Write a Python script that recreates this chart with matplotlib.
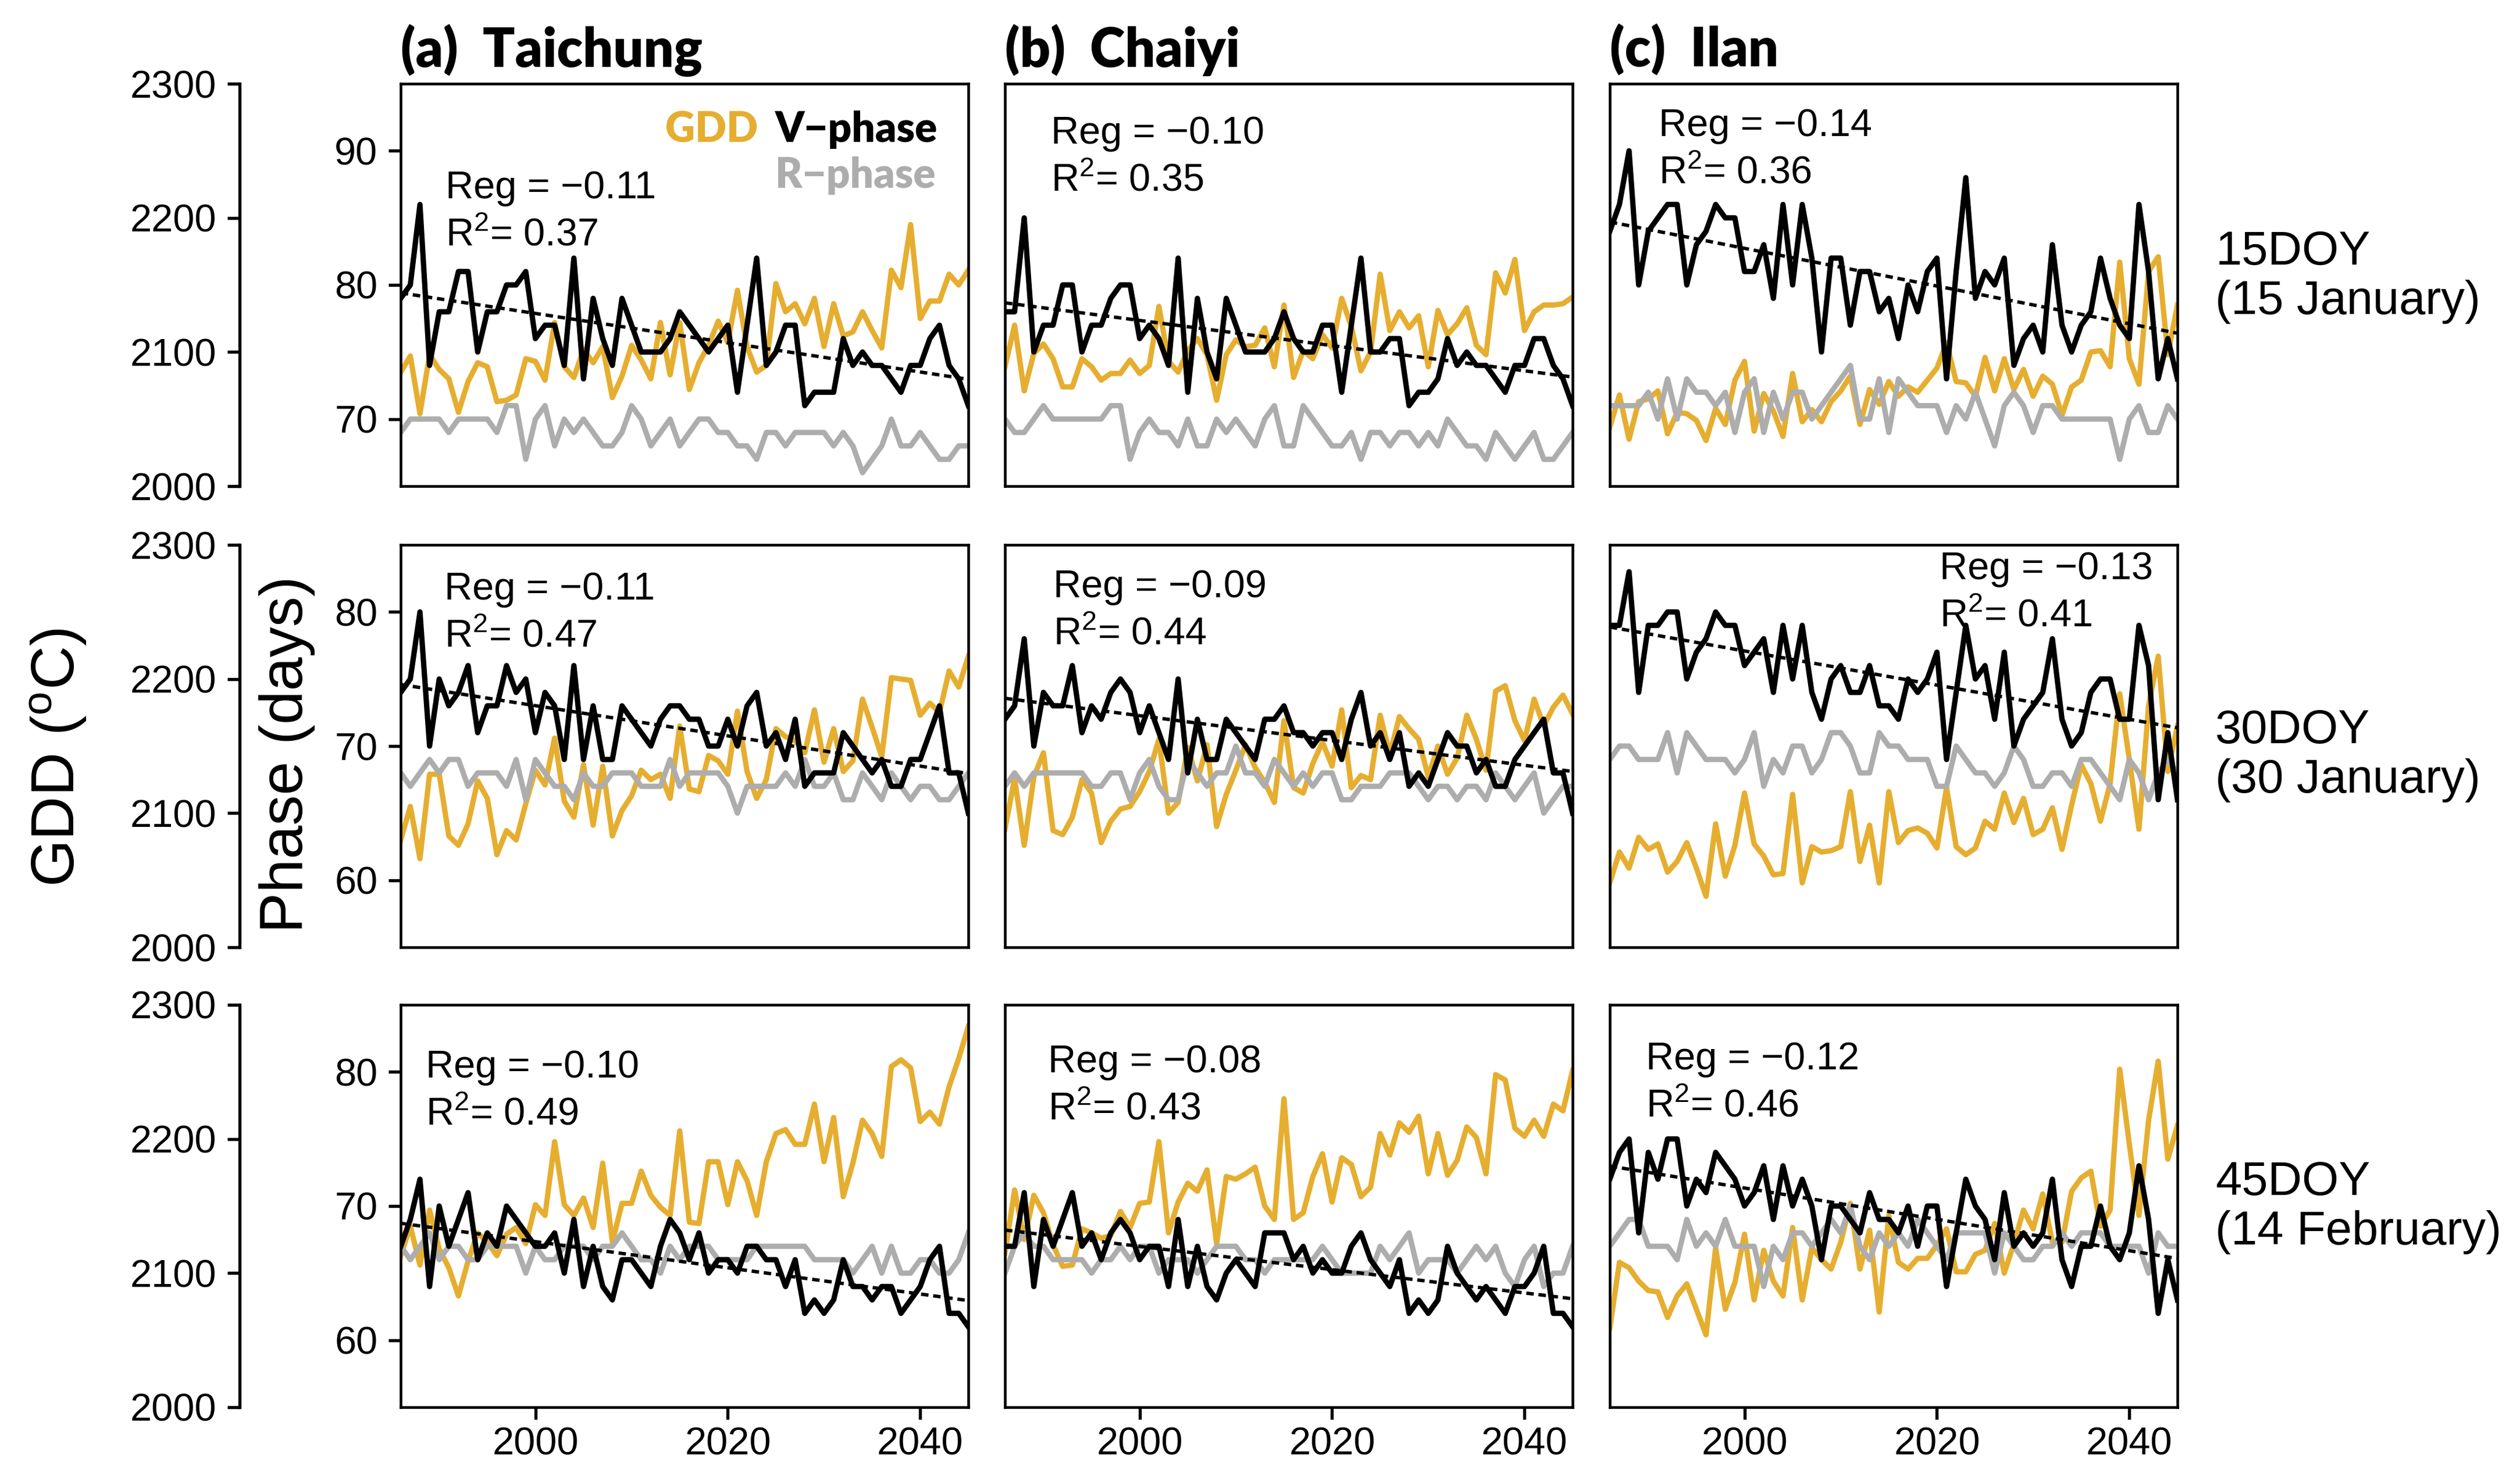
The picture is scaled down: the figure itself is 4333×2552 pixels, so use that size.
#!/usr/bin/env python3
import numpy as np
import matplotlib
matplotlib.use('Agg')
import matplotlib.pyplot as plt

plt.rcParams['font.family'] = ['Liberation Sans', 'DejaVu Sans']
plt.rcParams['mathtext.fontset'] = 'custom'
plt.rcParams['mathtext.rm'] = 'Liberation Sans'
plt.rcParams['mathtext.it'] = 'Liberation Sans:italic'

BOLD = ['Lato', 'DejaVu Sans']

YEARS = list(range(1986, 2046))
STATIONS = ['(a)  Taichung', '(b)  Chaiyi', '(c)  Ilan']
DATES = ['15DOY\n(15 January)', '30DOY\n(30 January)', '45DOY\n(14 February)']

# ---- 15 DOY -------------------------------------------------------------
GDD_TC_15 = [2085, 2097, 2054, 2098, 2087, 2080, 2055, 2078, 2092, 2089, 2063, 2064, 2068, 2095, 2093,
             2079, 2122, 2089, 2081, 2102, 2092, 2104, 2066, 2082, 2105, 2094, 2080, 2122, 2083, 2122,
             2072, 2092, 2105, 2123, 2107, 2146, 2104, 2085, 2090, 2151, 2130, 2136, 2121, 2140, 2104,
             2136, 2112, 2115, 2130, 2116, 2103, 2161, 2148, 2195, 2125, 2138, 2138, 2158, 2150, 2161]
VP_TC_15 = [79, 80, 86, 74, 78, 78, 81, 81, 75, 78, 78, 80, 80, 81, 76, 77, 77, 74, 82, 73,
            79, 76, 74, 79, 77, 75, 75, 75, 76, 78, 77, 76, 75, 76, 77, 72, 77, 82, 74, 75,
            77, 77, 71, 72, 72, 72, 76, 74, 75, 74, 74, 73, 72, 74, 74, 76, 77, 74, 73, 71]
RP_TC_15 = [69, 70, 70, 70, 70, 69, 70, 70, 70, 70, 69, 71, 71, 67, 70, 71, 68, 70, 69, 70,
            69, 68, 68, 69, 71, 70, 68, 69, 70, 68, 69, 70, 70, 69, 69, 68, 68, 67, 69, 69,
            68, 69, 69, 69, 69, 68, 69, 68, 66, 67, 68, 70, 68, 68, 69, 68, 67, 67, 68, 68]

GDD_CY_15 = [2089, 2120, 2071, 2099, 2106, 2095, 2074, 2074, 2095, 2089, 2079, 2084, 2084, 2094, 2084,
             2090, 2134, 2093, 2085, 2101, 2110, 2098, 2064, 2098, 2109, 2104, 2105, 2118, 2089, 2135,
             2081, 2101, 2095, 2113, 2103, 2140, 2119, 2086, 2100, 2158, 2116, 2130, 2118, 2127, 2089,
             2131, 2113, 2121, 2133, 2105, 2098, 2159, 2144, 2169, 2116, 2130, 2135, 2135, 2136, 2141]
VP_CY_15 = [78, 78, 85, 75, 77, 77, 80, 80, 75, 77, 77, 79, 80, 80, 76, 77, 76, 74, 82, 72,
            79, 75, 73, 79, 77, 75, 75, 75, 76, 78, 76, 75, 75, 77, 77, 72, 77, 82, 75, 75,
            76, 76, 71, 72, 72, 73, 76, 74, 75, 74, 74, 73, 72, 74, 74, 76, 76, 74, 73, 71]
RP_CY_15 = [70, 69, 69, 70, 71, 70, 70, 70, 70, 70, 70, 71, 71, 67, 69, 70, 69, 69, 68, 70,
            68, 68, 70, 69, 70, 69, 68, 70, 71, 68, 68, 71, 70, 69, 68, 68, 69, 67, 69, 69,
            68, 69, 69, 68, 69, 68, 70, 69, 68, 68, 67, 69, 68, 67, 68, 69, 67, 67, 68, 69]

GDD_IL_15 = [2044, 2068, 2035, 2063, 2065, 2071, 2039, 2055, 2054, 2049, 2034, 2058, 2046, 2079, 2093,
             2041, 2069, 2056, 2037, 2084, 2048, 2057, 2048, 2063, 2071, 2082, 2046, 2072, 2061, 2078,
             2067, 2074, 2070, 2079, 2088, 2107, 2078, 2077, 2067, 2096, 2071, 2095, 2072, 2087, 2067,
             2082, 2076, 2053, 2074, 2079, 2100, 2101, 2089, 2167, 2095, 2076, 2160, 2171, 2098, 2135]
VP_IL_15 = [84, 86, 90, 80, 84, 85, 86, 86, 80, 83, 84, 86, 85, 85, 81, 81, 83, 79, 86, 80,
            86, 82, 75, 82, 82, 77, 81, 81, 78, 79, 76, 80, 78, 81, 82, 73, 81, 88, 79, 81,
            80, 82, 74, 76, 77, 75, 83, 77, 75, 77, 78, 82, 79, 77, 76, 86, 81, 73, 76, 73]
RP_IL_15 = [71, 71, 71, 71, 72, 70, 73, 70, 73, 72, 72, 71, 72, 69, 72, 73, 69, 72, 70, 72,
            72, 70, 71, 72, 73, 74, 70, 70, 73, 69, 73, 72, 71, 71, 71, 69, 71, 70, 72, 70,
            68, 71, 72, 71, 69, 71, 71, 70, 70, 70, 70, 70, 70, 67, 70, 71, 69, 69, 71, 70]

# ---- 30 DOY -------------------------------------------------------------
GDD_TC_30 = [2080, 2105, 2066, 2129, 2129, 2083, 2076, 2092, 2124, 2111, 2069, 2087, 2080, 2107, 2132,
             2121, 2156, 2109, 2097, 2136, 2091, 2135, 2083, 2102, 2113, 2132, 2125, 2129, 2111, 2165,
             2118, 2116, 2143, 2139, 2129, 2176, 2131, 2111, 2125, 2163, 2157, 2154, 2145, 2177, 2138,
             2163, 2131, 2139, 2185, 2164, 2142, 2201, 2200, 2199, 2173, 2182, 2175, 2206, 2194, 2217]
VP_TC_30 = [74, 75, 80, 70, 75, 73, 74, 76, 71, 73, 73, 76, 74, 75, 71, 74, 73, 69, 76, 69,
            73, 69, 69, 73, 72, 71, 70, 72, 73, 73, 72, 72, 70, 70, 72, 70, 73, 74, 70, 71,
            69, 72, 67, 68, 68, 68, 71, 70, 69, 68, 69, 67, 67, 69, 69, 71, 73, 68, 68, 65]
RP_TC_30 = [68, 67, 68, 69, 68, 69, 69, 67, 68, 68, 68, 67, 69, 66, 69, 68, 67, 67, 66, 68,
            67, 67, 68, 68, 68, 67, 67, 67, 69, 67, 68, 68, 68, 68, 67, 65, 67, 67, 67, 67,
            68, 67, 69, 67, 67, 68, 66, 66, 68, 67, 66, 68, 67, 66, 67, 67, 66, 66, 67, 68]

GDD_CY_30 = [2088, 2126, 2076, 2127, 2145, 2087, 2084, 2097, 2125, 2115, 2078, 2094, 2103, 2105, 2116,
             2131, 2155, 2100, 2108, 2149, 2124, 2151, 2090, 2114, 2132, 2151, 2134, 2123, 2108, 2169,
             2119, 2115, 2137, 2153, 2135, 2177, 2119, 2128, 2125, 2173, 2144, 2172, 2163, 2155, 2127,
             2150, 2129, 2141, 2173, 2155, 2132, 2191, 2195, 2169, 2154, 2185, 2165, 2179, 2188, 2174]
VP_CY_30 = [72, 73, 78, 70, 74, 73, 73, 76, 71, 73, 72, 74, 75, 74, 71, 73, 71, 69, 75, 68,
            72, 69, 69, 72, 71, 70, 69, 72, 72, 73, 71, 71, 70, 71, 71, 69, 72, 74, 70, 71,
            69, 71, 67, 68, 67, 69, 71, 70, 70, 68, 69, 67, 67, 69, 70, 71, 72, 68, 68, 65]
RP_CY_30 = [67, 68, 67, 68, 68, 68, 68, 68, 68, 67, 67, 68, 68, 66, 68, 69, 67, 66, 66, 69,
            68, 67, 68, 68, 70, 68, 68, 67, 69, 68, 67, 68, 67, 68, 68, 66, 66, 67, 67, 67,
            68, 68, 68, 67, 66, 67, 67, 66, 67, 67, 66, 68, 67, 66, 67, 68, 65, 66, 67, 67]

GDD_IL_30 = [2048, 2071, 2059, 2082, 2073, 2077, 2056, 2064, 2078, 2059, 2038, 2092, 2053, 2076, 2115,
             2077, 2068, 2054, 2055, 2114, 2048, 2075, 2071, 2072, 2075, 2116, 2064, 2091, 2048, 2116,
             2078, 2087, 2089, 2085, 2074, 2119, 2075, 2069, 2074, 2094, 2088, 2115, 2093, 2111, 2084,
             2088, 2104, 2073, 2106, 2136, 2122, 2094, 2122, 2189, 2140, 2088, 2180, 2217, 2131, 2165]
VP_IL_30 = [79, 79, 83, 74, 79, 79, 80, 80, 75, 77, 78, 80, 79, 79, 76, 77, 78, 74, 79, 75,
            79, 74, 72, 75, 76, 74, 74, 76, 73, 73, 72, 75, 74, 75, 77, 69, 74, 79, 75, 76,
            72, 77, 70, 72, 73, 74, 78, 72, 70, 71, 74, 75, 75, 72, 72, 79, 76, 66, 71, 66]
RP_IL_30 = [69, 70, 70, 69, 69, 69, 71, 68, 71, 70, 69, 69, 69, 68, 69, 71, 67, 69, 68, 70,
            70, 68, 69, 71, 71, 70, 68, 68, 71, 70, 70, 69, 69, 69, 67, 67, 70, 69, 68, 68,
            67, 68, 70, 69, 67, 67, 68, 68, 67, 69, 69, 68, 67, 66, 69, 68, 66, 68, 69, 68]

# ---- 45 DOY -------------------------------------------------------------
GDD_TC_45 = [2113, 2135, 2106, 2147, 2118, 2104, 2083, 2109, 2130, 2123, 2113, 2129, 2134, 2122, 2151,
             2143, 2198, 2151, 2143, 2156, 2134, 2182, 2123, 2152, 2152, 2176, 2158, 2149, 2143, 2206,
             2138, 2137, 2183, 2183, 2151, 2183, 2169, 2143, 2183, 2204, 2207, 2196, 2196, 2226, 2183,
             2216, 2157, 2182, 2214, 2204, 2187, 2254, 2259, 2253, 2213, 2220, 2211, 2239, 2260, 2284]
VP_TC_45 = [67, 69, 72, 64, 70, 67, 69, 71, 66, 68, 67, 70, 69, 68, 67, 67, 68, 65, 69, 64,
            67, 64, 63, 66, 66, 65, 64, 67, 69, 68, 66, 68, 65, 66, 66, 65, 67, 67, 66, 66,
            64, 66, 62, 63, 62, 63, 66, 64, 64, 63, 64, 64, 62, 63, 64, 66, 67, 62, 62, 61]
RP_TC_45 = [67, 66, 67, 68, 66, 67, 67, 66, 66, 67, 67, 67, 67, 65, 67, 66, 66, 67, 67, 67,
            66, 67, 67, 68, 67, 66, 66, 65, 67, 66, 67, 67, 67, 66, 66, 66, 66, 67, 67, 67,
            67, 67, 67, 66, 66, 66, 66, 65, 66, 67, 65, 67, 65, 65, 66, 66, 65, 65, 66, 68]

GDD_CY_45 = [2115, 2162, 2125, 2158, 2145, 2121, 2105, 2106, 2133, 2130, 2126, 2128, 2146, 2134, 2152,
             2153, 2198, 2130, 2153, 2167, 2161, 2177, 2122, 2172, 2170, 2174, 2179, 2150, 2140, 2230,
             2140, 2145, 2172, 2189, 2153, 2186, 2181, 2157, 2164, 2204, 2188, 2212, 2205, 2217, 2174,
             2204, 2173, 2184, 2209, 2201, 2174, 2248, 2244, 2208, 2202, 2214, 2202, 2226, 2221, 2251]
VP_CY_45 = [67, 67, 71, 64, 69, 67, 69, 71, 67, 68, 66, 68, 69, 68, 66, 67, 67, 64, 69, 64,
            67, 64, 63, 65, 66, 65, 64, 68, 68, 68, 66, 67, 65, 66, 65, 65, 67, 68, 66, 65,
            64, 66, 62, 63, 62, 63, 67, 65, 64, 63, 64, 63, 62, 64, 64, 65, 67, 62, 62, 61]
RP_CY_45 = [65, 67, 68, 67, 67, 66, 66, 66, 66, 65, 66, 66, 67, 66, 67, 67, 65, 66, 66, 66,
            65, 66, 67, 67, 67, 66, 66, 65, 66, 66, 66, 66, 66, 67, 66, 65, 65, 65, 65, 67,
            66, 67, 68, 65, 66, 66, 66, 65, 66, 67, 66, 67, 65, 64, 66, 67, 64, 65, 65, 67]

GDD_IL_45 = [2059, 2108, 2104, 2094, 2087, 2086, 2067, 2083, 2092, 2073, 2054, 2119, 2073, 2093, 2129,
             2080, 2117, 2094, 2083, 2134, 2080, 2119, 2110, 2103, 2123, 2152, 2103, 2132, 2071, 2143,
             2108, 2103, 2111, 2111, 2121, 2133, 2101, 2101, 2114, 2117, 2137, 2100, 2122, 2147, 2133,
             2159, 2123, 2123, 2161, 2171, 2176, 2135, 2147, 2252, 2196, 2143, 2214, 2258, 2185, 2210]
VP_IL_45 = [72, 74, 75, 68, 74, 72, 75, 75, 70, 72, 71, 74, 73, 72, 70, 71, 73, 69, 73, 70,
            72, 70, 66, 70, 70, 69, 68, 71, 69, 69, 68, 70, 67, 70, 70, 64, 68, 72, 70, 69,
            66, 71, 67, 68, 67, 68, 72, 66, 64, 67, 67, 70, 67, 66, 68, 73, 69, 62, 66, 63]
RP_IL_45 = [67, 68, 69, 69, 67, 67, 67, 66, 69, 67, 68, 67, 69, 67, 67, 67, 64, 67, 66, 68,
            68, 67, 68, 69, 68, 70, 67, 66, 68, 67, 68, 67, 69, 68, 67, 66, 68, 68, 68, 68,
            65, 68, 67, 66, 66, 67, 67, 68, 67, 68, 68, 68, 67, 67, 67, 67, 65, 68, 67, 67]

REG = [[-0.11, -0.10, -0.14],
       [-0.11, -0.09, -0.13],
       [-0.10, -0.08, -0.12]]
R2 = [[0.37, 0.35, 0.36],
      [0.47, 0.44, 0.41],
      [0.49, 0.43, 0.46]]

SERIES = [
    [(GDD_TC_15, VP_TC_15, RP_TC_15), (GDD_CY_15, VP_CY_15, RP_CY_15), (GDD_IL_15, VP_IL_15, RP_IL_15)],
    [(GDD_TC_30, VP_TC_30, RP_TC_30), (GDD_CY_30, VP_CY_30, RP_CY_30), (GDD_IL_30, VP_IL_30, RP_IL_30)],
    [(GDD_TC_45, VP_TC_45, RP_TC_45), (GDD_CY_45, VP_CY_45, RP_CY_45), (GDD_IL_45, VP_IL_45, RP_IL_45)],
]

# layout (pixels of the 4333 x 2552 output)
FIG_W_PX, FIG_H_PX, DPI = 4333, 2552, 300
COL_LEFT = [689, 1728, 2768]
ROW_TOP = [144, 937, 1728]
PANEL_W, PANEL_H = 976, 692

PHASE_LIM = [(65, 95), (55, 85), (55, 85)]
PHASE_TICKS = [[70, 80, 90], [60, 70, 80], [60, 70, 80]]
GDD_LIM = (2000, 2300)

# position of the "Reg" line (axes fraction, cap centre)
TEXT_XY = [[(0.079, 0.751), (0.081, 0.886), (0.086, 0.905)],
           [(0.077, 0.899), (0.085, 0.905), (0.581, 0.950)],
           [(0.044, 0.854), (0.076, 0.868), (0.064, 0.875)]]
DATE_Y = [0.52, 0.476, 0.496]

ORANGE = '#E6AE30'
GREY = '#ADADAD'
LW = 2.2


def draw_panel(fig, r, c):
    rect = [COL_LEFT[c] / FIG_W_PX,
            1 - (ROW_TOP[r] + PANEL_H) / FIG_H_PX,
            PANEL_W / FIG_W_PX, PANEL_H / FIG_H_PX]
    ax = fig.add_axes(rect)
    ax2 = ax.twinx()
    ax.set_zorder(2)
    ax2.set_zorder(1)
    ax.patch.set_visible(False)

    gdd, vp, rp = SERIES[r][c]
    x = np.array(YEARS)

    ax2.plot(x, gdd, color=ORANGE, lw=LW)
    ax.plot(x, rp, color=GREY, lw=LW)
    ax.plot(x, vp, color='black', lw=LW)
    k, b = np.polyfit(x, vp, 1)
    ax.plot(x[[0, -1]], k * x[[0, -1]] + b, color='black', lw=1.4, ls=(0, (2.2, 1.4)))

    ax.set_xlim(1986, 2045)
    ax.set_ylim(*PHASE_LIM[r])
    ax2.set_ylim(*GDD_LIM)
    for sp in ax.spines.values():
        sp.set_linewidth(1.1)

    ax.tick_params(length=5, width=1.3, pad=4.5, labelsize=16)
    if r == 2:
        ax.set_xticks([2000, 2020, 2040])
        ax.tick_params(axis='x', pad=3)
    else:
        ax.tick_params(axis='x', bottom=False, labelbottom=False)
    if c == 0:
        ax.set_yticks(PHASE_TICKS[r])
    else:
        ax.tick_params(axis='y', left=False, labelleft=False)

    for sp in ax2.spines.values():
        sp.set_visible(False)
    if c == 0:
        ax2.spines['left'].set_visible(True)
        ax2.spines['left'].set_position(('outward', 66.5))
        ax2.spines['left'].set_linewidth(1.3)
        ax2.yaxis.set_ticks_position('left')
        ax2.set_yticks([2000, 2100, 2200, 2300])
        ax2.tick_params(axis='y', length=5, width=1.3, pad=4.5, labelsize=16)
    else:
        ax2.tick_params(axis='y', left=False, right=False, labelleft=False, labelright=False)

    tx, ty = TEXT_XY[r][c]
    ax.text(tx, ty - 0.035, f'Reg = \u2212{abs(REG[r][c]):.2f}', transform=ax.transAxes,
            fontsize=16, ha='left', va='baseline')
    ax.text(tx, ty - 0.035 - 0.118, r'R$^{\mathregular{2}}$= ' + f'{R2[r][c]:.2f}',
            transform=ax.transAxes, fontsize=16, ha='left', va='baseline')

    if r == 0:
        ax.set_title(STATIONS[c], loc='left', pad=7, fontsize=22, fontweight='heavy', family=BOLD)
    if c == 2:
        ax.text(1.067, DATE_Y[r], DATES[r], transform=ax.transAxes, fontsize=19.5,
                ha='left', va='center', linespacing=1.15)
    if r == 0 and c == 0:
        ax.text(0.466, 0.855, 'GDD', color=ORANGE, transform=ax.transAxes, fontsize=17,
                fontweight='heavy', family=BOLD, ha='left', va='baseline')
        ax.text(0.66, 0.855, 'V\u2212phase', color='black', transform=ax.transAxes, fontsize=17,
                fontweight='heavy', family=BOLD, ha='left', va='baseline')
        ax.text(0.66, 0.742, 'R\u2212phase', color=GREY, transform=ax.transAxes, fontsize=17,
                fontweight='heavy', family=BOLD, ha='left', va='baseline')
    return ax


def main() -> int:
    fig = plt.figure(figsize=(FIG_W_PX / DPI, FIG_H_PX / DPI), dpi=DPI)
    for r in range(3):
        for c in range(3):
            draw_panel(fig, r, c)

    fig.text(0.0231, 0.4894, r'GDD ($^{\mathregular{o}}$C)', rotation=90, fontsize=25,
             ha='center', va='center')
    fig.text(0.114, 0.4918, 'Phase (days)', rotation=90, fontsize=25, ha='center', va='center')

    fig.savefig('out.png', dpi=DPI)
    plt.close(fig)
    return 0


if __name__ == '__main__':
    raise SystemExit(main())
